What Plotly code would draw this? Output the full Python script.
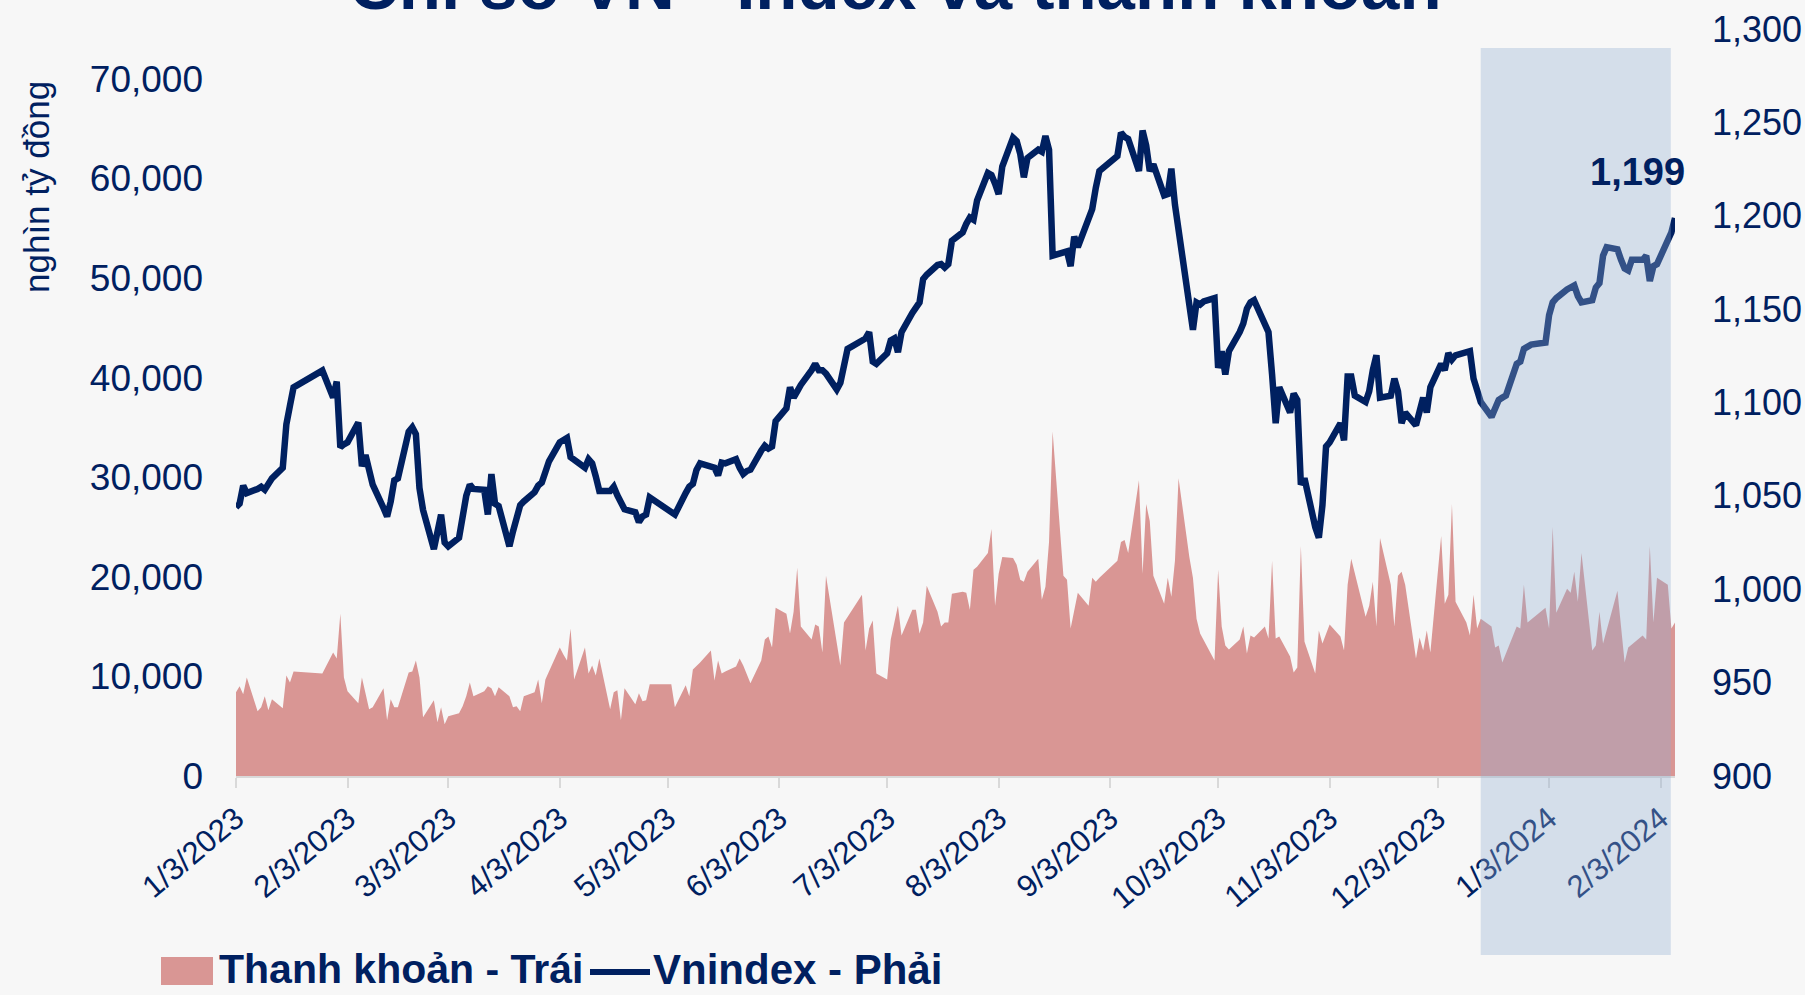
import plotly.graph_objects as go

# ---------------- data ----------------
idx_dates = [
    "2023-01-03", "2023-01-04", "2023-01-05", "2023-01-06", "2023-01-09", "2023-01-10", "2023-01-11",
    "2023-01-12", "2023-01-13", "2023-01-16", "2023-01-17", "2023-01-18", "2023-01-19", "2023-01-27",
    "2023-01-30", "2023-01-31", "2023-02-01", "2023-02-02", "2023-02-03", "2023-02-06", "2023-02-07",
    "2023-02-08", "2023-02-09", "2023-02-10", "2023-02-13", "2023-02-14", "2023-02-15", "2023-02-16",
    "2023-02-17", "2023-02-20", "2023-02-21", "2023-02-22", "2023-02-23", "2023-02-24", "2023-02-27",
    "2023-02-28", "2023-03-01", "2023-03-02", "2023-03-03", "2023-03-06", "2023-03-07", "2023-03-08",
    "2023-03-09", "2023-03-10", "2023-03-13", "2023-03-14", "2023-03-15", "2023-03-16", "2023-03-17",
    "2023-03-20", "2023-03-21", "2023-03-22", "2023-03-23", "2023-03-24", "2023-03-27", "2023-03-28",
    "2023-03-29", "2023-03-30", "2023-03-31", "2023-04-03", "2023-04-04", "2023-04-05", "2023-04-06",
    "2023-04-07", "2023-04-10", "2023-04-11", "2023-04-12", "2023-04-13", "2023-04-14", "2023-04-17",
    "2023-04-18", "2023-04-19", "2023-04-20", "2023-04-21", "2023-04-24", "2023-04-25", "2023-04-26",
    "2023-04-27", "2023-04-28", "2023-05-04", "2023-05-05", "2023-05-08", "2023-05-09", "2023-05-10",
    "2023-05-11", "2023-05-12", "2023-05-15", "2023-05-16", "2023-05-17", "2023-05-18", "2023-05-19",
    "2023-05-22", "2023-05-23", "2023-05-24", "2023-05-25", "2023-05-26", "2023-05-29", "2023-05-30",
    "2023-05-31", "2023-06-01", "2023-06-02", "2023-06-05", "2023-06-06", "2023-06-07", "2023-06-08",
    "2023-06-09", "2023-06-12", "2023-06-13", "2023-06-14", "2023-06-15", "2023-06-16", "2023-06-19",
    "2023-06-20", "2023-06-21", "2023-06-22", "2023-06-23", "2023-06-26", "2023-06-27", "2023-06-28",
    "2023-06-29", "2023-06-30", "2023-07-03", "2023-07-04", "2023-07-05", "2023-07-06", "2023-07-07",
    "2023-07-10", "2023-07-11", "2023-07-12", "2023-07-13", "2023-07-14", "2023-07-17", "2023-07-18",
    "2023-07-19", "2023-07-20", "2023-07-21", "2023-07-24", "2023-07-25", "2023-07-26", "2023-07-27",
    "2023-07-28", "2023-07-31", "2023-08-01", "2023-08-02", "2023-08-03", "2023-08-04", "2023-08-07",
    "2023-08-08", "2023-08-09", "2023-08-10", "2023-08-11", "2023-08-14", "2023-08-15", "2023-08-16",
    "2023-08-17", "2023-08-18", "2023-08-21", "2023-08-22", "2023-08-23", "2023-08-24", "2023-08-25",
    "2023-08-28", "2023-08-29", "2023-08-30", "2023-08-31", "2023-09-05", "2023-09-06", "2023-09-07",
    "2023-09-08", "2023-09-11", "2023-09-12", "2023-09-13", "2023-09-14", "2023-09-15", "2023-09-18",
    "2023-09-19", "2023-09-20", "2023-09-21", "2023-09-22", "2023-09-25", "2023-09-26", "2023-09-27",
    "2023-09-28", "2023-09-29", "2023-10-02", "2023-10-03", "2023-10-04", "2023-10-05", "2023-10-06",
    "2023-10-09", "2023-10-10", "2023-10-11", "2023-10-12", "2023-10-13", "2023-10-16", "2023-10-17",
    "2023-10-18", "2023-10-19", "2023-10-20", "2023-10-23", "2023-10-24", "2023-10-25", "2023-10-26",
    "2023-10-27", "2023-10-30", "2023-10-31", "2023-11-01", "2023-11-02", "2023-11-03", "2023-11-06",
    "2023-11-07", "2023-11-08", "2023-11-09", "2023-11-10", "2023-11-13", "2023-11-14", "2023-11-15",
    "2023-11-16", "2023-11-17", "2023-11-20", "2023-11-21", "2023-11-22", "2023-11-23", "2023-11-24",
    "2023-11-27", "2023-11-28", "2023-11-29", "2023-11-30", "2023-12-01", "2023-12-04", "2023-12-05",
    "2023-12-06", "2023-12-07", "2023-12-08", "2023-12-11", "2023-12-12", "2023-12-13", "2023-12-14",
    "2023-12-15", "2023-12-18", "2023-12-19", "2023-12-20", "2023-12-21", "2023-12-22", "2023-12-25",
    "2023-12-26", "2023-12-27", "2023-12-28", "2023-12-29", "2024-01-02", "2024-01-03", "2024-01-04",
    "2024-01-05", "2024-01-08", "2024-01-09", "2024-01-10", "2024-01-11", "2024-01-12", "2024-01-15",
    "2024-01-16", "2024-01-17", "2024-01-18", "2024-01-19", "2024-01-22", "2024-01-23", "2024-01-24",
    "2024-01-25", "2024-01-26", "2024-01-29", "2024-01-30", "2024-01-31", "2024-02-01", "2024-02-02",
    "2024-02-05", "2024-02-06", "2024-02-07",
]
idx_values = [
    1043.9, 1045.8, 1055.5, 1051.5, 1053.7, 1054.9, 1053.3,
    1056.5, 1059.4, 1065.0, 1088.3, 1098.3, 1108.1, 1117.1,
    1102.6, 1111.2, 1076.0, 1077.6, 1078.7, 1089.3, 1065.9,
    1071.9, 1062.8, 1056.0, 1043.5, 1039.0, 1046.9, 1058.3,
    1059.4, 1084.4, 1086.7, 1083.0, 1054.2, 1042.4, 1021.5,
    1032.0, 1040.0, 1025.0, 1023.0, 1027.6, 1040.0, 1050.0,
    1056.0, 1053.7, 1053.3, 1040.0, 1061.7, 1045.8, 1044.6,
    1023.0, 1031.0, 1039.0, 1045.0, 1047.0, 1052.0, 1055.5,
    1057.1, 1062.8, 1068.5, 1078.7, 1079.8, 1081.0, 1070.8,
    1069.6, 1065.1, 1069.6, 1067.4, 1060.5, 1052.6, 1052.6,
    1054.9, 1050.3, 1046.9, 1042.8, 1041.2, 1036.0, 1039.0,
    1040.0, 1049.2, 1042.0, 1040.0, 1051.5, 1054.9, 1056.4,
    1063.9, 1067.4, 1066.2, 1065.1, 1061.0, 1067.8, 1067.4,
    1069.6, 1065.1, 1061.7, 1063.3, 1064.0, 1074.2, 1076.9,
    1075.3, 1076.4, 1090.0, 1096.9, 1108.2, 1102.6, 1106.0,
    1109.4, 1117.3, 1120.7, 1117.3, 1117.3, 1115.5, 1107.0,
    1110.5, 1119.6, 1128.7, 1129.8, 1133.2, 1134.3, 1137.7,
    1121.9, 1120.7, 1126.4, 1133.2, 1134.3, 1126.9, 1137.7,
    1148.0, 1151.4, 1153.6, 1166.1, 1168.4, 1173.6, 1174.1,
    1172.3, 1174.1, 1186.6, 1191.1, 1195.7, 1199.1, 1197.9,
    1208.2, 1222.9, 1221.8, 1217.2, 1211.6, 1226.3, 1241.8,
    1240.0, 1233.1, 1220.6, 1230.9, 1235.4, 1234.3, 1242.7,
    1235.4, 1178.6, 1179.8, 1180.9, 1173.0, 1188.8, 1183.2,
    1200.2, 1203.6, 1215.0, 1224.0, 1232.0, 1244.5, 1242.2,
    1241.1, 1224.0, 1245.6, 1237.7, 1224.0, 1227.5, 1210.9,
    1211.6, 1225.2, 1205.9, 1193.4, 1153.6, 1138.9, 1153.6,
    1152.5, 1154.1, 1155.9, 1118.5, 1127.5, 1115.0, 1127.5,
    1137.7, 1142.3, 1150.2, 1153.6, 1154.8, 1142.3, 1137.7,
    1115.0, 1088.9, 1108.2, 1094.6, 1104.8, 1101.4, 1056.0,
    1059.4, 1033.3, 1027.6, 1045.0, 1076.4, 1078.7, 1088.9,
    1079.8, 1113.9, 1113.9, 1103.7, 1100.3, 1106.0, 1117.3,
    1125.3, 1102.6, 1103.7, 1112.8, 1106.0, 1088.9, 1094.6,
    1087.8, 1094.6, 1102.6, 1094.6, 1108.2, 1120.7, 1117.3,
    1126.4, 1123.0, 1125.3, 1126.9, 1127.5, 1112.8, 1107.1,
    1100.3, 1092.3, 1096.9, 1101.4, 1102.6, 1103.7, 1120.7,
    1121.9, 1128.7, 1129.8, 1131.0, 1132.1, 1146.8, 1153.6,
    1155.9, 1160.5, 1161.6, 1162.7, 1157.0, 1153.6, 1154.8,
    1161.6, 1163.9, 1178.6, 1183.2, 1182.0, 1176.4, 1171.8,
    1170.7, 1176.4, 1176.4, 1178.6, 1165.0, 1173.0, 1174.1,
    1186.6, 1191.1, 1198.8,
]

liq_dates = [
    "2023-01-03", "2023-01-04", "2023-01-05", "2023-01-06", "2023-01-09", "2023-01-10", "2023-01-11",
    "2023-01-12", "2023-01-13", "2023-01-16", "2023-01-17", "2023-01-18", "2023-01-19", "2023-01-27",
    "2023-01-30", "2023-01-31", "2023-02-01", "2023-02-02", "2023-02-03", "2023-02-06", "2023-02-07",
    "2023-02-08", "2023-02-09", "2023-02-10", "2023-02-13", "2023-02-14", "2023-02-15", "2023-02-16",
    "2023-02-17", "2023-02-20", "2023-02-21", "2023-02-22", "2023-02-23", "2023-02-24", "2023-02-27",
    "2023-02-28", "2023-03-01", "2023-03-02", "2023-03-03", "2023-03-06", "2023-03-07", "2023-03-08",
    "2023-03-09", "2023-03-10", "2023-03-13", "2023-03-14", "2023-03-15", "2023-03-16", "2023-03-17",
    "2023-03-20", "2023-03-21", "2023-03-22", "2023-03-23", "2023-03-24", "2023-03-27", "2023-03-28",
    "2023-03-29", "2023-03-30", "2023-04-03", "2023-04-04", "2023-04-05", "2023-04-06", "2023-04-07",
    "2023-04-10", "2023-04-11", "2023-04-12", "2023-04-13", "2023-04-14", "2023-04-17", "2023-04-18",
    "2023-04-19", "2023-04-20", "2023-04-21", "2023-04-24", "2023-04-25", "2023-04-26", "2023-04-27",
    "2023-04-28", "2023-05-04", "2023-05-05", "2023-05-08", "2023-05-09", "2023-05-10", "2023-05-12",
    "2023-05-15", "2023-05-16", "2023-05-17", "2023-05-18", "2023-05-19", "2023-05-22", "2023-05-23",
    "2023-05-24", "2023-05-26", "2023-05-29", "2023-05-30", "2023-05-31", "2023-06-01", "2023-06-02",
    "2023-06-05", "2023-06-06", "2023-06-07", "2023-06-08", "2023-06-09", "2023-06-12", "2023-06-13",
    "2023-06-14", "2023-06-15", "2023-06-16", "2023-06-20", "2023-06-21", "2023-06-26", "2023-06-27",
    "2023-06-28", "2023-06-29", "2023-06-30", "2023-07-03", "2023-07-04", "2023-07-06", "2023-07-07",
    "2023-07-10", "2023-07-11", "2023-07-12", "2023-07-13", "2023-07-14", "2023-07-17", "2023-07-18",
    "2023-07-19", "2023-07-20", "2023-07-21", "2023-07-24", "2023-07-25", "2023-07-26", "2023-07-27",
    "2023-07-28", "2023-07-31", "2023-08-01", "2023-08-02", "2023-08-03", "2023-08-04", "2023-08-07",
    "2023-08-08", "2023-08-09", "2023-08-10", "2023-08-11", "2023-08-14", "2023-08-15", "2023-08-16",
    "2023-08-17", "2023-08-18", "2023-08-21", "2023-08-22", "2023-08-23", "2023-08-25", "2023-08-28",
    "2023-08-29", "2023-08-30", "2023-08-31", "2023-09-05", "2023-09-06", "2023-09-07", "2023-09-08",
    "2023-09-11", "2023-09-12", "2023-09-13", "2023-09-14", "2023-09-15", "2023-09-18", "2023-09-19",
    "2023-09-20", "2023-09-21", "2023-09-22", "2023-09-25", "2023-09-26", "2023-09-27", "2023-09-28",
    "2023-10-02", "2023-10-03", "2023-10-04", "2023-10-05", "2023-10-06", "2023-10-09", "2023-10-10",
    "2023-10-11", "2023-10-12", "2023-10-13", "2023-10-16", "2023-10-17", "2023-10-18", "2023-10-19",
    "2023-10-20", "2023-10-23", "2023-10-24", "2023-10-25", "2023-10-26", "2023-10-27", "2023-10-30",
    "2023-10-31", "2023-11-01", "2023-11-03", "2023-11-06", "2023-11-07", "2023-11-08", "2023-11-09",
    "2023-11-13", "2023-11-14", "2023-11-15", "2023-11-16", "2023-11-17", "2023-11-20", "2023-11-21",
    "2023-11-22", "2023-11-23", "2023-11-24", "2023-11-27", "2023-11-28", "2023-11-29", "2023-11-30",
    "2023-12-01", "2023-12-04", "2023-12-05", "2023-12-06", "2023-12-07", "2023-12-08", "2023-12-11",
    "2023-12-12", "2023-12-13", "2023-12-14", "2023-12-15", "2023-12-18", "2023-12-19", "2023-12-20",
    "2023-12-21", "2023-12-25", "2023-12-26", "2023-12-27", "2023-12-28", "2024-01-02", "2024-01-03",
    "2024-01-04", "2024-01-05", "2024-01-08", "2024-01-09", "2024-01-10", "2024-01-11", "2024-01-12",
    "2024-01-15", "2024-01-16", "2024-01-17", "2024-01-18", "2024-01-22", "2024-01-23", "2024-01-24",
    "2024-01-25", "2024-01-29", "2024-01-30", "2024-01-31", "2024-02-01", "2024-02-02", "2024-02-05",
    "2024-02-06", "2024-02-07",
]
liq_values = [
    8400, 9000, 8200, 9900, 6500, 6900, 8000,
    6600, 7700, 6800, 10100, 9400, 10500, 10300,
    12400, 11800, 16300, 9900, 8500, 7300, 9900,
    8200, 6700, 6900, 8800, 5600, 7700, 6900,
    6900, 10400, 10500, 11600, 9900, 5900, 7600,
    5400, 6900, 5200, 6000, 6300, 7000, 8000,
    9400, 8000, 8500, 9000, 8800, 8000, 8900,
    8000, 6900, 7000, 6500, 8000, 8400, 9700,
    7300, 9700, 12900, 12200, 11600, 14800, 9700,
    12900, 10300, 11100, 10100, 11800, 6700, 8400,
    8600, 5600, 8800, 7200, 8300, 7500, 7600,
    9200, 9200, 6900, 9100, 8000, 10700, 11400,
    12600, 9600, 11600, 10300, 10500, 11000, 11800,
    11100, 9300, 11600, 13700, 14000, 12900, 16900,
    16300, 14300, 16500, 20900, 15000, 13700, 15200,
    15000, 12400, 20100, 11100, 15400, 18200, 12600,
    14800, 15600, 10300, 9700, 13700, 17100, 14100,
    16700, 16700, 14300, 15400, 19100, 16500, 15000,
    15400, 15400, 18300, 18500, 18400, 16700, 20700,
    21000, 22400, 24800, 17100, 20300, 22000, 21900,
    21200, 19700, 19500, 20500, 21800, 17700, 19000,
    23500, 34600, 20100, 19700, 14800, 18400, 17100,
    19900, 19500, 19900, 21600, 23500, 23700, 22400,
    29700, 20300, 27300, 25600, 20100, 17300, 19900,
    18000, 21600, 29900, 22000, 19900, 15800, 14300,
    11600, 20700, 15000, 13100, 12700, 13700, 15000,
    12300, 14100, 13900, 15000, 13800, 21600, 13800,
    14000, 12000, 10400, 10900, 23100, 13500, 10300,
    14600, 13300, 15200, 14000, 12600, 19200, 21800,
    16000, 17100, 19500, 15000, 23900, 19200, 15000,
    20100, 20500, 19200, 11800, 13900, 12600, 14600,
    12400, 24100, 17300, 18200, 27300, 17500, 15400,
    14100, 18200, 14800, 15800, 15000, 12900, 13100,
    11400, 15000, 14800, 19200, 15400, 16900, 14800,
    25000, 16400, 18800, 18400, 20500, 17500, 22400,
    12600, 13100, 16500, 13300, 18600, 15200, 11400,
    12900, 14100, 13700, 23100, 15400, 19900, 19200,
    14800, 15400,
]

tick_dates = [
    "2023-01-03", "2023-02-03", "2023-03-03", "2023-04-03", "2023-05-03", "2023-06-03", "2023-07-03",
    "2023-08-03", "2023-09-03", "2023-10-03", "2023-11-03", "2023-12-03", "2024-01-03", "2024-02-03",
]
tick_labels = [
    "1/3/2023", "2/3/2023", "3/3/2023", "4/3/2023", "5/3/2023", "6/3/2023", "7/3/2023",
    "8/3/2023", "9/3/2023", "10/3/2023", "11/3/2023", "12/3/2023", "1/3/2024", "2/3/2024",
]
left_ticks = [0, 10000, 20000, 30000, 40000, 50000, 60000, 70000]
right_ticks = [900, 950, 1000, 1050, 1100, 1150, 1200, 1250, 1300]
highlight_period = ["2023-12-15", "2024-02-05 20:00"]

title_text = "Chỉ số VN - Index và thanh khoản"
left_axis_title = "nghìn tỷ đồng"
liq_name = "Thanh khoản - Trái"
idx_name = "Vnindex - Phải"

# ---------------- styles ----------------
NAVY = "#002060"
PINK = "#D99694"
BG = "#F7F7F7"
FONT = "Liberation Sans, Arial, sans-serif"

W, H = 1805, 995
ML, MR, MT, MB = 236, 130, 29, 219
PW, PH = W - ML - MR, H - MT - MB


def px(xpix):
    return (xpix - ML) / PW


def py(ypix):
    return (H - MB - ypix) / PH


fig = go.Figure()
fig.add_trace(go.Scatter(
    x=liq_dates, y=liq_values, name=liq_name, mode="lines",
    line=dict(width=0, color=PINK), fill="tozeroy", fillcolor=PINK,
    yaxis="y", showlegend=False, hoverinfo="x+y",
))
fig.add_trace(go.Scatter(
    x=idx_dates, y=idx_values, name=idx_name, mode="lines",
    line=dict(width=6.5, color=NAVY), yaxis="y2", showlegend=False,
))

fig.update_layout(
    width=W, height=H,
    margin=dict(l=ML, r=MR, t=MT, b=MB, pad=0, autoexpand=False),
    paper_bgcolor=BG, plot_bgcolor=BG,
    font=dict(family=FONT, color=NAVY),
    showlegend=False,
    xaxis=dict(
        type="date", range=[idx_dates[0], idx_dates[-1]],
        tickvals=tick_dates, ticktext=tick_labels, tickangle=-40,
        tickfont=dict(size=31, color=NAVY, family=FONT),
        showgrid=False, zeroline=False, automargin=False,
        showline=True, linecolor="#D9D9D9", linewidth=2,
        ticks="outside", ticklen=10, tickwidth=2, tickcolor="#D9D9D9",
    ),
    yaxis=dict(
        range=[0, 75000], tickvals=left_ticks, tickformat=",",
        tickfont=dict(size=37, color=NAVY, family=FONT),
        showgrid=False, zeroline=False, showline=False, ticks="",
        ticklabelstandoff=32, automargin=False,
    ),
    yaxis2=dict(
        range=[900, 1300], tickvals=right_ticks, tickformat=",",
        overlaying="y", side="right",
        tickfont=dict(size=36, color=NAVY, family=FONT),
        showgrid=False, zeroline=False, showline=False, ticks="",
        ticklabelstandoff=36, automargin=False,
    ),
)

# highlighted period (semi-transparent band drawn above the series)
fig.add_shape(
    type="rect", xref="x", yref="paper",
    x0=highlight_period[0], x1=highlight_period[1],
    y0=py(955), y1=py(48),
    fillcolor="rgba(145,175,210,0.35)", line=dict(width=0), layer="above",
)

annotations = [
    # title (partly cut by the top edge as in the reference)
    dict(text=f"<b>{title_text}</b>", xref="paper", yref="paper",
         x=px(895), y=py(-14), xanchor="center", yanchor="middle",
         showarrow=False, font=dict(size=69, color=NAVY, family=FONT)),
    # left axis title
    dict(text=left_axis_title, xref="paper", yref="paper",
         x=px(37), y=py(187), xanchor="center", yanchor="middle", textangle=-90,
         showarrow=False, font=dict(size=35, color=NAVY, family=FONT)),
    # last value label
    dict(text=f"<b>{idx_values[-1]:,.0f}</b>", xref="x", yref="y2",
         x=idx_dates[-1], y=idx_values[-1], xanchor="right", yanchor="bottom",
         xshift=12, yshift=23, showarrow=False,
         font=dict(size=38, color=NAVY, family=FONT)),
    # legend texts
    dict(text=f"<b>{liq_name}</b>", xref="paper", yref="paper",
         x=px(217), y=py(969), xanchor="left", yanchor="middle",
         showarrow=False, font=dict(size=41, color=NAVY, family=FONT)),
    dict(text=f"<b>{idx_name}</b>", xref="paper", yref="paper",
         x=px(651), y=py(969), xanchor="left", yanchor="middle",
         showarrow=False, font=dict(size=42, color=NAVY, family=FONT)),
]
fig.update_layout(annotations=annotations)

# legend symbols
fig.add_shape(type="rect", xref="paper", yref="paper",
              x0=px(161), x1=px(213), y0=py(985), y1=py(957),
              fillcolor=PINK, line=dict(width=0))
fig.add_shape(type="line", xref="paper", yref="paper",
              x0=px(590), x1=px(650), y0=py(972), y1=py(972),
              line=dict(color=NAVY, width=6))

fig.write_html(
    "out.html",
    config={"displayModeBar": False},
    post_script="document.body.style.margin='0';document.body.style.overflow='hidden';",
)
